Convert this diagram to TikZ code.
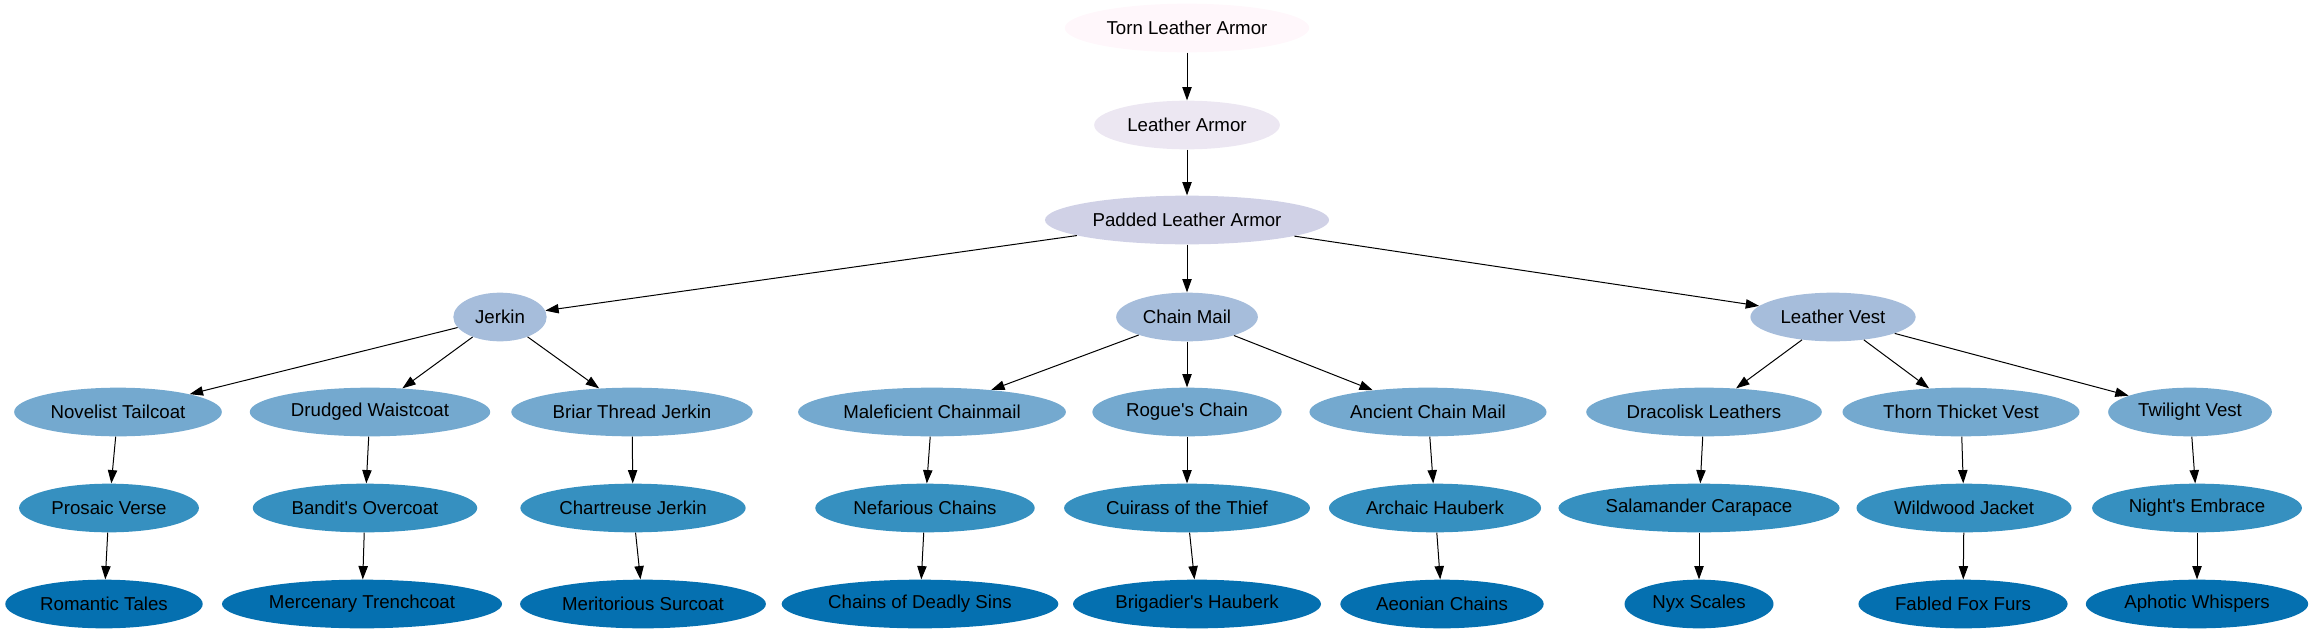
\documentclass[tikz,border=0pt]{standalone}
\usepackage{fontspec}
\setmainfont{Liberation Sans}[Ligatures=TeXOff]
\usetikzlibrary{shapes.geometric,arrows.meta}
\definecolor{pubuA}{HTML}{FFF7FB}
\definecolor{pubuB}{HTML}{ECE7F2}
\definecolor{pubuC}{HTML}{D0D1E6}
\definecolor{pubuD}{HTML}{A6BDDB}
\definecolor{pubuE}{HTML}{74A9CF}
\definecolor{pubuF}{HTML}{3690C0}
\definecolor{pubuG}{HTML}{0570B0}
\begin{document}
\begin{tikzpicture}[x=0.75pt,y=-0.75pt,
    item/.style={ellipse,minimum width=70pt,minimum height=36.5pt,
      inner xsep=4.5pt,inner ysep=0pt,font=\fontsize{14}{16}\selectfont},
    rankA/.style={item,fill=pubuA},
    rankB/.style={item,fill=pubuB},
    rankC/.style={item,fill=pubuC},
    rankD/.style={item,fill=pubuD},
    rankE/.style={item,fill=pubuE},
    rankF/.style={item,fill=pubuF},
    rankG/.style={item,fill=pubuG}]
      \useasboundingbox (0,0) rectangle (2311,635);
      \path
        (1187,28) node[rankA] (torn){Torn Leather Armor}
        (1187,125) node[rankB] (leather){Leather Armor}
        (1187,220) node[rankC] (padded){Padded Leather Armor}
        (500,317) node[rankD] (jerkin){Jerkin}
        (1187,317) node[rankD] (chain){Chain Mail}
        (1833,317) node[rankD] (vest){Leather Vest}
        (118,412) node[rankE] (novelist){Novelist Tailcoat}
        (370,412) node[rankE] (drudged){Drudged Waistcoat}
        (632,412) node[rankE] (briar){Briar Thread Jerkin}
        (932,412) node[rankE] (malef){Maleficient Chainmail}
        (1187,412) node[rankE] (rogue){Rogue's Chain}
        (1428,412) node[rankE] (ancient){Ancient Chain Mail}
        (1704,412) node[rankE] (dracolisk){Dracolisk Leathers}
        (1961,412) node[rankE] (thorn){Thorn Thicket Vest}
        (2190,412) node[rankE] (twilight){Twilight Vest}
        (109,508) node[rankF] (prosaic){Prosaic Verse}
        (365,508) node[rankF] (bandit){Bandit's Overcoat}
        (633,508) node[rankF] (chartreuse){Chartreuse Jerkin}
        (925,508) node[rankF] (nefarious){Nefarious Chains}
        (1187,508) node[rankF] (cuirass){Cuirass of the Thief}
        (1435,508) node[rankF] (archaic){Archaic Hauberk}
        (1699,508) node[rankF] (salamander){Salamander Carapace}
        (1964,508) node[rankF] (wildwood){Wildwood Jacket}
        (2197,508) node[rankF] (nights){Night's Embrace}
        (104,604) node[rankG] (romantic){Romantic Tales}
        (362,604) node[rankG] (mercenary){Mercenary Trenchcoat}
        (643,604) node[rankG] (meritorious){Meritorious Surcoat}
        (920,604) node[rankG] (deadly){Chains of Deadly Sins}
        (1197,604) node[rankG] (brigadier){Brigadier's Hauberk}
        (1442,604) node[rankG] (aeonian){Aeonian Chains}
        (1699,604) node[rankG] (nyx){Nyx Scales}
        (1963,604) node[rankG] (fabled){Fabled Fox Furs}
        (2197,604) node[rankG] (aphotic){Aphotic Whispers};
      \begin{scope}[-{Triangle[length=10pt,width=7pt]},line width=0.75pt]
        \draw (torn) to (leather);
        \draw (leather) to (padded);
        \draw (padded) to (jerkin);
        \draw (padded) to (chain);
        \draw (padded) to (vest);
        \draw (jerkin) to (novelist);
        \draw (jerkin) to (drudged);
        \draw (jerkin) to (briar);
        \draw (chain) to (malef);
        \draw (chain) to (rogue);
        \draw (chain) to (ancient);
        \draw (vest) to (dracolisk);
        \draw (vest) to (thorn);
        \draw (vest) to (twilight);
        \draw (novelist) to (prosaic);
        \draw (drudged) to (bandit);
        \draw (briar) to (chartreuse);
        \draw (malef) to (nefarious);
        \draw (rogue) to (cuirass);
        \draw (ancient) to (archaic);
        \draw (dracolisk) to (salamander);
        \draw (thorn) to (wildwood);
        \draw (twilight) to (nights);
        \draw (prosaic) to (romantic);
        \draw (bandit) to (mercenary);
        \draw (chartreuse) to (meritorious);
        \draw (nefarious) to (deadly);
        \draw (cuirass) to (brigadier);
        \draw (archaic) to (aeonian);
        \draw (salamander) to (nyx);
        \draw (wildwood) to (fabled);
        \draw (nights) to (aphotic);
      \end{scope}
    \end{tikzpicture}
\end{document}
